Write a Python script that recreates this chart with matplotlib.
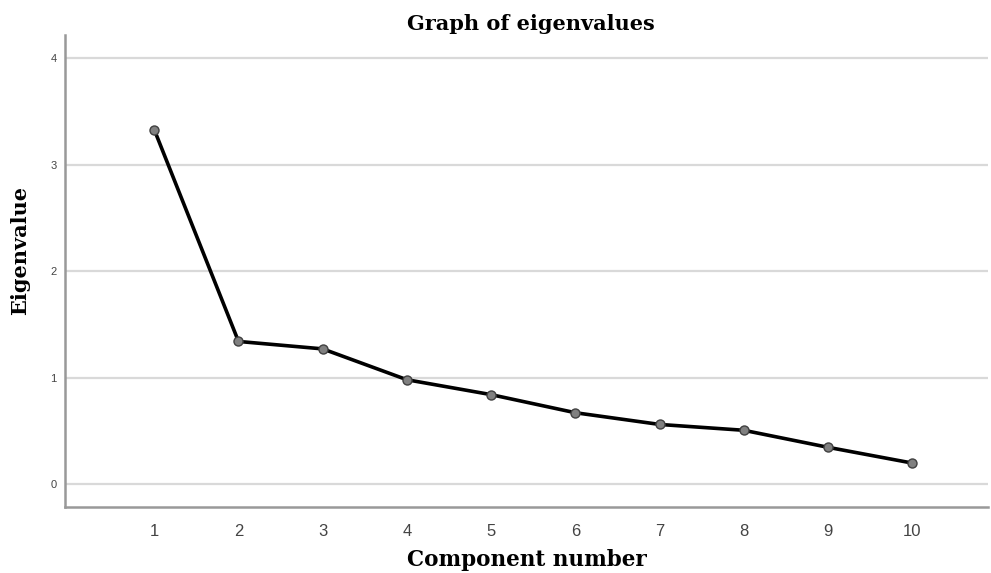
import numpy as np
import matplotlib
matplotlib.use("Agg")
import matplotlib.pyplot as plt

components = [1, 2, 3, 4, 5, 6, 7, 8, 9, 10]
eigenvalues = [3.33, 1.34, 1.27, 0.98, 0.84, 0.67, 0.56, 0.505, 0.345, 0.197]
yticks = [0, 1, 2, 3, 4]

fig = plt.figure(figsize=(9.91, 5.73), dpi=100)
ax = fig.add_axes([65/991, 1 - 507/573, (988 - 65)/991, (507 - 35)/573])

ax.plot(components, eigenvalues, color='black', lw=2.6, zorder=3,
        marker='o', markersize=6.5, markerfacecolor='#808080',
        markeredgecolor='#404040', markeredgewidth=1.0)

ax.set_xlim(-0.06, 10.9)
ax.set_ylim(-0.216, 4.22)
ax.set_xticks(components)
ax.set_yticks(yticks)
ax.grid(axis='y', color='#d9d9d9', lw=1.6)
ax.set_axisbelow(True)
ax.tick_params(length=0)
ax.tick_params(axis='x', labelsize=12, labelcolor='#444444', pad=12)
ax.tick_params(axis='y', labelsize=8, labelcolor='#444444', pad=6)
for lab in ax.get_xticklabels() + ax.get_yticklabels():
    lab.set_family('Liberation Sans')

for s in ['top', 'right']:
    ax.spines[s].set_visible(False)
for s in ['left', 'bottom']:
    ax.spines[s].set_color('#999999')
    ax.spines[s].set_linewidth(1.8)

fig.text(531/991, 1 - 24/573, 'Graph of eigenvalues', ha='center', va='center',
         fontsize=15, fontweight='bold', family='DejaVu Serif')
fig.text(20/991, 1 - 250/573, 'Eigenvalue', ha='center', va='center', rotation=90,
         fontsize=15, fontweight='bold', family='DejaVu Serif')
fig.text(527/991, 1 - 560/573, 'Component number', ha='center', va='center',
         fontsize=15.5, fontweight='bold', family='DejaVu Serif')

fig.savefig('out.png', dpi=100)
